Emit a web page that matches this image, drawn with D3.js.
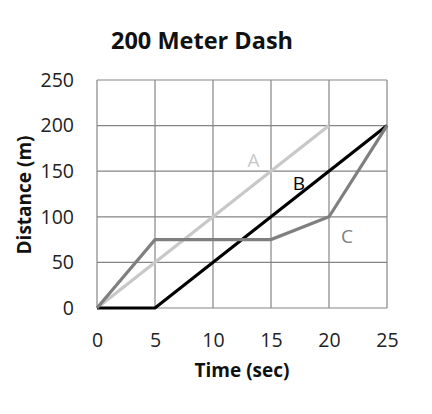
<!DOCTYPE html>
<html>
<head>
<meta charset="utf-8">
<script src="https://cdn.jsdelivr.net/npm/d3@7"></script>
<style>
  body { margin: 0; background: #fff; }
  text { font-family: "Open Sans", "Noto Sans", sans-serif; }
</style>
</head>
<body>
<svg id="chart"></svg>
<script>
// Data
var runnerA = [
    {x: 0, y: 0},
    {x: 20, y: 200}
];
var runnerB = [
    {x: 0, y: 0},
    {x: 5, y: 0},
    {x: 25, y: 200}
];
var runnerC = [
    {x: 0, y: 0},
    {x: 5, y: 75},
    {x: 15, y: 75},
    {x: 20, y: 100},
    {x: 25, y: 200}
];
var xTicks = [0, 5, 10, 15, 20, 25];
var yTicks = [0, 50, 100, 150, 200, 250];
var seriesNames = ["A", "B", "C"];
// where each name sits, in data units
var labelSpots = [{x: 13.5, y: 155}, {x: 17.4, y: 129}, {x: 21.55, y: 71}];

var margin = { top: 80, right: 45, bottom: 106, left: 97 };
var width = 432 - margin.left - margin.right;
var height = 414 - margin.top - margin.bottom;

var root = d3.select("#chart")
    .attr("width", 432)
    .attr("height", 414);

var svg = root.append("g")
    .attr("transform", "translate(" + margin.left + "," + margin.top + ")");

var xScale = d3.scaleLinear()
    .domain([0, 25])
    .range([0, width]);

var yScale = d3.scaleLinear()
    .domain([0, 250])
    .range([height, 0]);

// grid
svg.append("g")
    .selectAll("line")
    .data(xTicks)
    .enter().append("line")
    .attr("x1", function(d) { return xScale(d); })
    .attr("x2", function(d) { return xScale(d); })
    .attr("y1", 0)
    .attr("y2", height)
    .attr("stroke", "#858585")
    .attr("stroke-width", 1.2);

svg.append("g")
    .selectAll("line")
    .data(yTicks)
    .enter().append("line")
    .attr("x1", 0)
    .attr("x2", width)
    .attr("y1", function(d) { return yScale(d); })
    .attr("y2", function(d) { return yScale(d); })
    .attr("stroke", "#858585")
    .attr("stroke-width", 1.2);

var line = d3.line()
    .x(function(d) { return xScale(d.x); })
    .y(function(d) { return yScale(d.y); });

var colors = ["#c8c8c8", "#000000", "#7f7f7f"];
var allRuns = [runnerA, runnerB, runnerC];

svg.selectAll(".run")
    .data(allRuns)
    .enter().append("path")
    .attr("class", "run")
    .attr("d", line)
    .attr("fill", "none")
    .attr("stroke", function(d, i) { return colors[i]; })
    .attr("stroke-width", 3.2)
    .attr("stroke-linejoin", "miter");

// series names on the lines
svg.selectAll(".name")
    .data(seriesNames)
    .enter().append("text")
    .attr("class", "name")
    .attr("x", function(d, i) { return xScale(labelSpots[i].x); })
    .attr("y", function(d, i) { return yScale(labelSpots[i].y); })
    .attr("text-anchor", "middle")
    .style("font-size", "19px")
    .attr("fill", function(d, i) { return colors[i]; })
    .text(function(d) { return d; });

// x axis
var xAxis = svg.append("g")
    .attr("transform", "translate(0," + height + ")")
    .call(d3.axisBottom(xScale).tickValues(xTicks).tickSize(0).tickPadding(25));
xAxis.select(".domain").remove();
xAxis.selectAll("text")
    .style("font-family", "'Open Sans', sans-serif")
    .style("font-size", "19.5px")
    .attr("fill", "#222");

// y axis
var yAxis = svg.append("g")
    .call(d3.axisLeft(yScale).tickValues(yTicks).tickSize(0).tickPadding(23));
yAxis.select(".domain").remove();
yAxis.selectAll("text")
    .style("font-family", "'Open Sans', sans-serif")
    .style("font-size", "19.5px")
    .attr("fill", "#222");

// title
root.append("text")
    .attr("x", 202)
    .attr("y", 49)
    .attr("text-anchor", "middle")
    .style("font-size", "23.5px")
    .style("font-weight", "bold")
    .attr("fill", "#111")
    .text("200 Meter Dash");

// x label
root.append("text")
    .attr("x", 242)
    .attr("y", 377)
    .attr("text-anchor", "middle")
    .style("font-size", "19px")
    .style("font-weight", "bold")
    .attr("fill", "#111")
    .text("Time (sec)");

// y label
root.append("text")
    .attr("transform", "translate(31,195) rotate(-90)")
    .attr("text-anchor", "middle")
    .style("font-size", "19px")
    .style("font-weight", "bold")
    .attr("fill", "#111")
    .text("Distance (m)");
</script>
</body>
</html>
